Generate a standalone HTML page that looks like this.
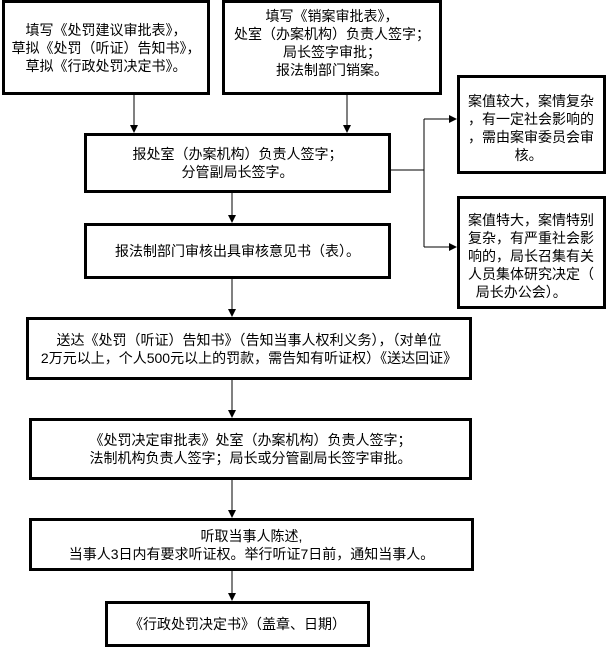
<!DOCTYPE html>
<html><head><meta charset="utf-8"><style>
body{margin:0;width:607px;height:648px;background:#fff;position:relative;overflow:hidden;font-family:"Liberation Sans","Noto Sans CJK SC",sans-serif;font-size:14px;color:#000}
.b{position:absolute;box-sizing:border-box;border:3px solid #000;display:flex;align-items:center;justify-content:center;text-align:center;line-height:18px}
svg{position:absolute;left:0;top:0}
</style></head><body>
<svg width="607" height="648">
<defs><marker id="a" markerWidth="8" markerHeight="8" refX="7" refY="4" orient="auto" markerUnits="userSpaceOnUse"><path d="M0,0 L8,4 L0,8z" fill="#000"/></marker></defs>
<g stroke="#000" stroke-width="1" fill="none">
<line x1="134" y1="95" x2="134" y2="132" marker-end="url(#a)"/>
<line x1="347" y1="95" x2="347" y2="132" marker-end="url(#a)"/>
<line x1="232" y1="193" x2="232" y2="222" marker-end="url(#a)"/>
<line x1="232" y1="279" x2="232" y2="316" marker-end="url(#a)"/>
<line x1="232" y1="379" x2="232" y2="417" marker-end="url(#a)"/>
<line x1="232" y1="479" x2="232" y2="517" marker-end="url(#a)"/>
<line x1="232" y1="571" x2="232" y2="600" marker-end="url(#a)"/>
<line x1="390" y1="170" x2="424" y2="170"/>
<line x1="424" y1="119" x2="424" y2="247"/>
<line x1="424" y1="119" x2="456" y2="119" marker-end="url(#a)"/>
<line x1="424" y1="247" x2="456" y2="247" marker-end="url(#a)"/>
</g></svg>
<div class="b" style="left:2px;top:0;width:208px;height:95px">填写《处罚建议审批表》，<br>草拟《处罚（听证）告知书》，<br>草拟《行政处罚决定书》。</div>
<div class="b" style="left:222px;top:0;width:220px;height:95px;align-items:flex-start;padding-top:4px">填写《销案审批表》，<br>处室（办案机构）负责人签字；<br>局长签字审批；<br>报法制部门销案。</div>
<div class="b" style="left:84px;top:133px;width:307px;height:60px">报处室（办案机构）负责人签字；<br>分管副局长签字。</div>
<div class="b" style="left:84px;top:223px;width:307px;height:56px">报法制部门审核出具审核意见书（表）。</div>
<div class="b" style="left:457px;top:75px;width:149px;height:99px;padding:14px 4px 0 8px;align-items:flex-start;justify-content:flex-start;text-align:left"><div>案值较大，案情复杂<br>，有一定社会影响的<br>，需由案审委员会审<br>&nbsp;&nbsp;&nbsp;&nbsp;&nbsp;&nbsp;&nbsp;&nbsp;&nbsp;&nbsp;&nbsp;&nbsp;核。</div></div>
<div class="b" style="left:457px;top:196px;width:149px;height:113px;padding:12px 4px 0 8px;align-items:flex-start;justify-content:flex-start;text-align:left"><div>案值特大，案情特别<br>复杂，有严重社会影<br>响的，局长召集有关<br>人员集体研究决定（<br>&nbsp;&nbsp;局长办公会）。</div></div>
<div class="b" style="left:26px;top:317px;width:446px;height:63px">送达《处罚（听证）告知书》（告知当事人权利义务），（对单位<br>2万元以上，个人500元以上的罚款，需告知有听证权）《送达回证》</div>
<div class="b" style="left:29px;top:418px;width:443px;height:62px">《处罚决定审批表》处室（办案机构）负责人签字；<br>法制机构负责人签字；局长或分管副局长签字审批。</div>
<div class="b" style="left:29px;top:518px;width:445px;height:53px">听取当事人陈述,<br>当事人3日内有要求听证权。举行听证7日前，通知当事人。</div>
<div class="b" style="left:105px;top:601px;width:265px;height:46px">《行政处罚决定书》（盖章、日期）</div>
</body></html>
